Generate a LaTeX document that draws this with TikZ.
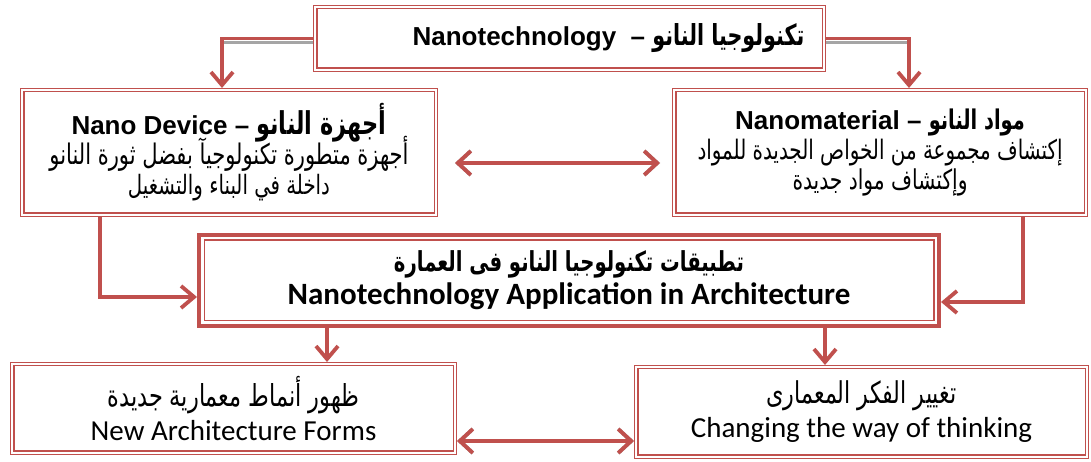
\documentclass[tikz,border=0pt]{standalone}
\usepackage{fontspec}
\usepackage{graphicx}
\usetikzlibrary{arrows.meta,calc}
\setmainfont{Liberation Sans}
\newfontfamily\calibri{Carlito}
\newfontfamily\arabicfont[Script=Arabic]{DejaVu Sans}
\TeXXeTstate=1
\definecolor{nred}{HTML}{C0504D}
\definecolor{shade}{HTML}{A5A5A5}
% Arabic text scaled to a given width, set a little taller than DejaVu's own shapes
\newcommand{\arfit}[2]{\scalebox{1}[1.35]{\resizebox{#1}{!}{\arabicfont #2}}}
\newcommand{\arfitbf}[2]{\scalebox{1}[1.4]{\resizebox{#1}{!}{\arabicfont\bfseries #2}}}
% keep baselines at a fixed distance
\newcommand{\tightlines}{\lineskiplimit=-50pt\relax}
\tikzset{
  box/.style={draw=nred, line width=1.1pt, double=white, double distance=2.2pt,
    inner sep=0pt, outer sep=2.3pt, align=center},
  mainbox/.style={draw=nred, line width=1.2pt, inner sep=0pt, outer sep=7.1pt, align=center},
  conn/.style={draw=nred, line width=3.8pt, -{Straight Barb[length=13pt,width=22pt]}},
  dconn/.style={draw=nred, line width=3.8pt,
    {Straight Barb[length=13pt,width=24pt]}-{Straight Barb[length=13pt,width=24pt]}},
  shadowline/.style={draw=shade, line width=3.8pt},
  dshadow/.style={draw=shade, line width=3.8pt,
    {Straight Barb[length=13pt,width=24pt]}-{Straight Barb[length=13pt,width=24pt]}},
}
\begin{document}
\begin{tikzpicture}[x=1pt,y=1pt]
\useasboundingbox (0,0) rectangle (1091,462);
\fill[white] (0,0) rectangle (1091,462);

% boxes
\node[box, minimum width=508.4pt, minimum height=62.4pt] (top) at (569.5,423.5)
  {\hspace*{78pt}\fontsize{26}{30}\selectfont\bfseries Nanotechnology~ – \arfitbf{152pt}{\beginR تكنولوجيا النانو\endR}};

\node[box, minimum width=413.4pt, minimum height=124.4pt,
  font=\fontsize{22}{30}\selectfont\tightlines] (dev) at (229,309.5)
  {{\fontsize{26}{32}\selectfont\bfseries Nano Device – \arfitbf{130pt}{\beginR أجهزة النانو\endR}}\\
   \arfit{359pt}{\beginR أجهزة متطورة تكنولوجيآ بفضل ثورة النانو\endR}\\
   \arfit{202pt}{\beginR داخلة في البناء والتشغيل\endR}};

\node[box, minimum width=411.4pt, minimum height=124.4pt,
  font=\fontsize{22}{30}\selectfont\tightlines] (mat) at (880,309.5)
  {{\fontsize{26}{32}\selectfont\bfseries Nanomaterial – \arfitbf{96pt}{\beginR مواد النانو\endR}}\\
   \arfit{365pt}{\beginR إكتشاف مجموعة من الخواص الجديدة للمواد\endR}\\
   \arfit{175pt}{\beginR وإكتشاف مواد جديدة\endR}};

\node[mainbox, minimum width=729.8pt, minimum height=80.8pt,
  font=\calibri\bfseries\fontsize{31}{33}\selectfont\tightlines] (app) at (569,181.5)
  {\arfitbf{350pt}{\beginR تطبيقات تكنولوجيا النانو فى العمارة\endR}\\
   Nanotechnology Application in Architecture};
\draw[nred, line width=4pt] ([shift={(2pt,-2pt)}]app.north west) rectangle ([shift={(-2pt,2pt)}]app.south east);

\node[box, minimum width=442.4pt, minimum height=88.4pt,
  font=\calibri\fontsize{29}{34}\selectfont\tightlines] (forms) at (233.5,53.5)
  {\arfit{252pt}{\beginR ظهور أنماط معمارية جديدة\endR}\\ New Architecture Forms};

\node[box, minimum width=450.4pt, minimum height=89.4pt,
  font=\calibri\fontsize{29}{34}\selectfont\tightlines] (think) at (861.5,50)
  {\arfit{190pt}{\beginR تغيير الفكر المعمارى\endR}\\ Changing the way of thinking};

% anchor points for the connectors
\coordinate (k1) at ([xshift=-7pt]dev.north);
\coordinate (k2) at ([xshift=29pt]mat.north);
\coordinate (m1) at ([shift={(17pt,-10.5pt)}]dev.east);
\coordinate (m2) at ([xshift=-12pt]m1 -| mat.west);
\coordinate (d1) at ([xshift=-129pt]dev.south);
\coordinate (d2) at ([yshift=-16.5pt]app.west);
\coordinate (r1) at ([xshift=143pt]mat.south);
\coordinate (r2) at ([yshift=-21.5pt]app.east);
\coordinate (s1) at ([xshift=-242pt]app.south);
\coordinate (s2) at ([xshift=256pt]app.south);
\coordinate (b1) at ([yshift=-32.5pt]forms.east);
\coordinate (b2) at (b1 -| think.west);

% shadows
\draw[shadowline] ([yshift=-4pt]top.west) -- ([yshift=-4pt]top.west -| k1);
\draw[shadowline] ([yshift=-4pt]top.east) -- ([yshift=-4pt]top.east -| k2);
\begin{scope}[shift={(1pt,-3.5pt)}]
  \draw[dshadow] (m1) -- (m2);
  \draw[dshadow] (b1) -- (b2);
\end{scope}
\begin{scope}[shift={(0pt,-3pt)}]
  \draw[shadowline] (d1) -- (d1 |- d2);
  \draw[shadowline] (r1) -- (r1 |- r2);
\end{scope}

% connectors
\draw[conn] (top.west) -| (k1);
\draw[conn] (top.east) -| (k2);
\draw[dconn] (m1) -- (m2);
\draw[conn] (d1) |- (d2);
\draw[conn] (r1) |- (r2);
\draw[conn] (s1) -- (s1 |- forms.north);
\draw[conn] (s2) -- (s2 |- think.north);
\draw[dconn] (b1) -- (b2);
\end{tikzpicture}
\end{document}
